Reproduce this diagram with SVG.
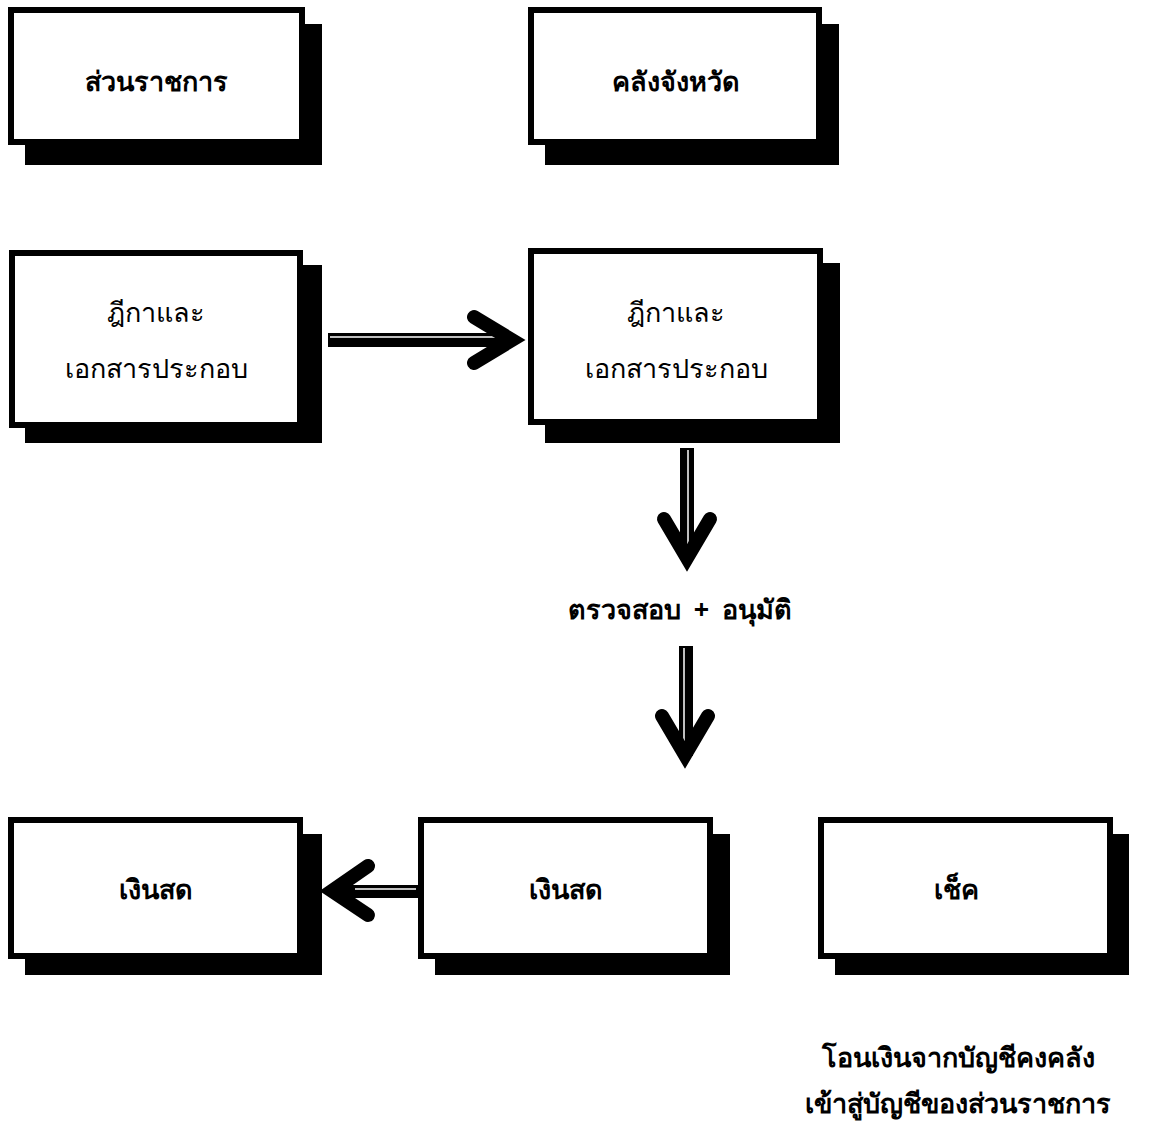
<svg xmlns="http://www.w3.org/2000/svg" width="1149" height="1126" viewBox="0 0 1149 1126">
  <style>
    .shadow { fill: #000; }
    .box { fill: #fff; stroke: #000; stroke-width: 6; }
    .title { font-family: "Noto Sans", "DejaVu Sans", sans-serif; font-weight: bold; font-size: 27px; text-anchor: middle; fill: #000; }
    .plain { font-family: "Noto Sans", "DejaVu Sans", sans-serif; font-size: 27px; text-anchor: middle; fill: #000; }
    .shaft { fill: #000; }
    .gap { stroke: #fff; stroke-width: 1.5; }
    .head { fill: none; stroke: #000; stroke-width: 14; stroke-linecap: round; stroke-linejoin: miter; }
  </style>
  <rect width="1149" height="1126" fill="#fff"/>

  <!-- top row: departments -->
  <g id="agency">
    <rect class="shadow" x="25" y="24" width="297" height="141"/>
    <rect class="box" x="11" y="10" width="291" height="132"/>
    <text class="title" x="156" y="91">ส่วนราชการ</text>
  </g>
  <g id="provincial-treasury">
    <rect class="shadow" x="545" y="24" width="294" height="141"/>
    <rect class="box" x="531" y="10" width="288" height="132"/>
    <text class="title" x="676" y="91">คลังจังหวัด</text>
  </g>

  <!-- second row: voucher and supporting documents -->
  <g id="voucher-agency">
    <rect class="shadow" x="25" y="265" width="297" height="178"/>
    <rect class="box" x="12" y="253" width="288" height="172"/>
    <text class="plain" x="156" y="322">ฎีกาและ</text>
    <text class="plain" x="156" y="378">เอกสารประกอบ</text>
  </g>
  <g id="voucher-treasury">
    <rect class="shadow" x="545" y="263" width="295" height="180"/>
    <rect class="box" x="531" y="251" width="289" height="171"/>
    <text class="plain" x="676" y="322">ฎีกาและ</text>
    <text class="plain" x="676" y="378">เอกสารประกอบ</text>
  </g>

  <!-- check and approve label -->
  <g id="check-approve">
    <text class="title" x="680" y="619" font-size="28" word-spacing="6">ตรวจสอบ + อนุมัติ</text>
  </g>

  <!-- third row: payment forms -->
  <g id="cash-agency">
    <rect class="shadow" x="25" y="834" width="297" height="141"/>
    <rect class="box" x="11" y="820" width="289" height="136"/>
    <text class="title" x="156" y="899">เงินสด</text>
  </g>
  <g id="cash-treasury">
    <rect class="shadow" x="435" y="834" width="295" height="141"/>
    <rect class="box" x="421" y="820" width="289" height="136"/>
    <text class="title" x="566" y="899">เงินสด</text>
  </g>
  <g id="cheque">
    <rect class="shadow" x="835" y="834" width="294" height="141"/>
    <rect class="box" x="821" y="820" width="289" height="136"/>
    <text class="title" x="956" y="899">เช็ค</text>
  </g>

  <!-- transfer note -->
  <g id="transfer-note">
    <text class="title" x="958" y="1067" font-size="28">โอนเงินจากบัญชีคงคลัง</text>
    <text class="title" x="958" y="1113" font-size="28">เข้าสู่บัญชีของส่วนราชการ</text>
  </g>

  <!-- connectors -->
  <g id="connectors">
    <!-- agency voucher to treasury voucher -->
    <rect class="shaft" x="328" y="333" width="184" height="14"/>
    <line class="gap" x1="330" y1="337" x2="505" y2="337"/>
    <path class="head" d="M474,317 L512,340 L474,363"/>

    <!-- treasury voucher down to check and approve -->
    <rect class="shaft" x="680" y="448" width="14" height="110"/>
    <line class="gap" x1="688" y1="450" x2="688" y2="550"/>
    <path class="head" d="M664,519 L687,558 L710,519"/>

    <!-- check and approve down to payment -->
    <rect class="shaft" x="679" y="646" width="14" height="110"/>
    <line class="gap" x1="684" y1="648" x2="684" y2="748"/>
    <path class="head" d="M662,716 L685,755 L708,716"/>

    <!-- treasury cash to agency cash -->
    <rect class="shaft" x="332" y="885" width="86" height="13"/>
    <line class="gap" x1="355" y1="889" x2="416" y2="889"/>
    <path class="head" d="M368,866 L332,891 L368,915"/>
  </g>
</svg>
